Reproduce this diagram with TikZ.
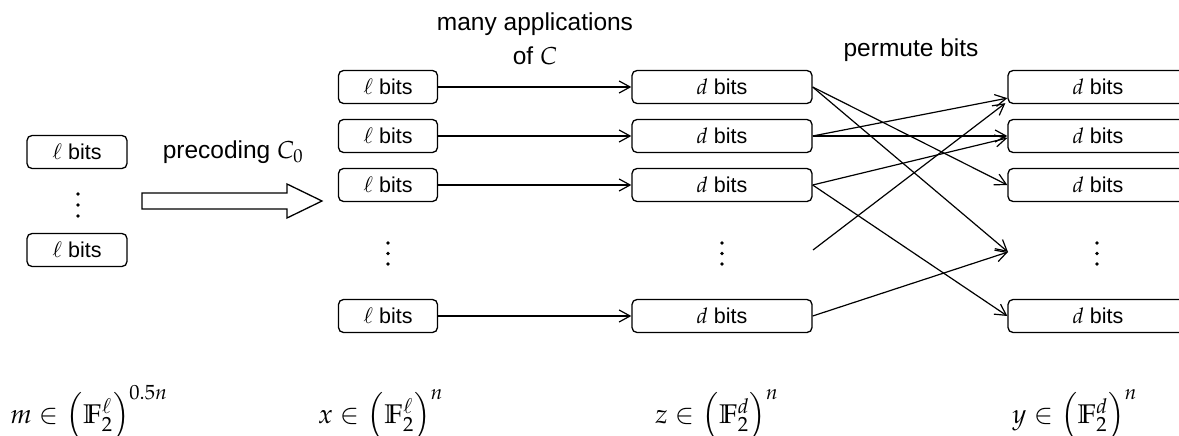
\documentclass[tikz,border=0pt]{standalone}
\usepackage{mathpazo}
\usepackage{fontspec}
\setsansfont{Liberation Sans}
\usetikzlibrary{arrows.meta,calc}
\tikzset{
  box/.style={draw, line width=1.3pt, rounded corners=5pt, minimum height=33pt, inner sep=0pt,
    font=\sffamily\fontsize{21.5}{24}\selectfont},
  lbox/.style={box, minimum width=100pt},
  xbox/.style={box, minimum width=99pt},
  dbox/.style={box, minimum width=180pt},
  conn/.style={-{Straight Barb[length=11pt,width=12pt,line width=1.2pt]}, line width=1.2pt},
  lab/.style={font=\sffamily\fontsize{24.5}{28}\selectfont, inner sep=0pt},
  mlab/.style={anchor=base west, inner sep=0pt, font=\fontsize{27}{30}\selectfont},
}
\begin{document}
\begin{tikzpicture}[x=1pt,y=-1pt]
\path[use as bounding box, clip] (0,0) rectangle (1179,436);
% left column
\node[lbox] (L1) at (77,152) {$\ell$ bits};
\node[lbox] (L2) at (77,250) {$\ell$ bits};
\foreach \yy in {194,205,216} \fill (78,\yy) circle (1.9pt);
% precoding arrow
\node[lab] (pre) at (233,152) {precoding $C_0$};
\draw[line width=1.3pt] (142,193) -- (287,193) -- (287,184) -- (322,201) -- (287,218) -- (287,209) -- (142,209) -- cycle;
% x column
\node[xbox] (X1) at (388,87) {$\ell$ bits};
\node[xbox] (X2) at (388,136) {$\ell$ bits};
\node[xbox] (X3) at (388,185) {$\ell$ bits};
\node[xbox] (X5) at (388,316) {$\ell$ bits};
% z column
\node[dbox] (Z1) at (722,87) {$d$ bits};
\node[dbox] (Z2) at (722,136) {$d$ bits};
\node[dbox] (Z3) at (722,185) {$d$ bits};
\node[dbox] (Z5) at (722,316) {$d$ bits};
% y column
\node[dbox] (Y1) at (1098,87) {$d$ bits};
\node[dbox] (Y2) at (1098,136) {$d$ bits};
\node[dbox] (Y3) at (1098,185) {$d$ bits};
\node[dbox] (Y5) at (1098,316) {$d$ bits};
% vertical dots
\foreach \xx in {388,722,1097} {
  \foreach \yy in {243,253.5,264} \fill (\xx,\yy) circle (1.9pt);
}
% labels
\node[lab] (mapp) at (535,24) {many applications};
\node[lab] (ofc) at (535,56) {of $C$};
\node[lab] (perm) at (911,50) {permute bits};
% x -> z
\draw[conn] (X1) -- (Z1);
\draw[conn] (X2) -- (Z2);
\draw[conn] (X3) -- (Z3);
\draw[conn] (X5) -- (Z5);
% permutation
\coordinate (P) at (1008,252);
\coordinate (F) at (813,250);
\draw[conn] (Z1.east) -- (Y3.west);
\draw[conn] (Z1.east) -- (P);
\draw[conn] (Z2.east) -- ($(Y1.south west)+(0,-6)$);
\draw[conn] (Z2.east) -- (Y2.west);
\draw[conn] (Z3.east) -- ($(Y2.west)+(0,2)$);
\draw[conn] (Z3.east) -- (Y5.west);
\draw[conn] (F) -- ($(Y1.south west)+(-2,-1)$);
\draw[conn] (Z5.east) -- (P);
% bottom math labels
\node[mlab] (m) at (10,423) {$m \in \left(\mathbb{F}_2^{\ell}\right)^{0.5n}$};
\node[mlab] (x) at (318,423) {$x \in \left(\mathbb{F}_2^{\ell}\right)^{n}$};
\node[mlab] (z) at (655,423) {$z \in \left(\mathbb{F}_2^{d}\right)^{n}$};
\node[mlab] (y) at (1012,423) {$y \in \left(\mathbb{F}_2^{d}\right)^{n}$};
\end{tikzpicture}
\end{document}
